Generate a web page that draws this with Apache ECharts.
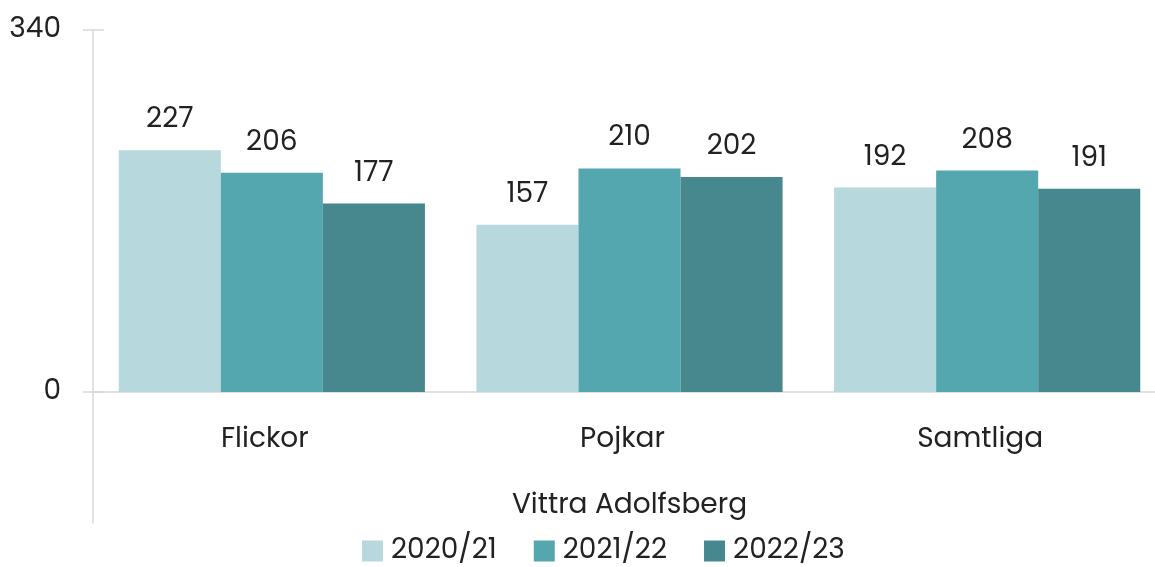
<!DOCTYPE html>
<html>
<head>
<meta charset="utf-8">
<script src="https://cdn.jsdelivr.net/npm/echarts@6/dist/echarts.min.js"></script>
<style>
  html, body { margin: 0; padding: 0; background: #fff; overflow: hidden; }
  #chart { width: 1170px; height: 567px; }
</style>
</head>
<body>
<div id="chart"></div>
<script>
var categories = ['Flickor', 'Pojkar', 'Samtliga'];
var seriesNames = ['2020/21', '2021/22', '2022/23'];
var v2020 = [227, 157, 192];
var v2021 = [206, 210, 208];
var v2022 = [177, 202, 191];
var colors = ['#b7d8dc', '#55a7af', '#46888e'];

var font = 'Poppins, "Open Sans", sans-serif';
var axisGray = '#d9d9d9';

var myChart = echarts.init(document.getElementById('chart'));

var option = {
    animation: false,
    color: colors,
    textStyle: { fontFamily: font },
    grid: [
        { left: 93, top: 30, width: 1073, height: 362 },
        { left: 93, top: 392, width: 1073, height: 131 }
    ],
    legend: {
        data: seriesNames,
        top: 537,
        left: 362,
        padding: 0,
        itemWidth: 21,
        itemHeight: 21,
        itemGap: 37,
        icon: 'rect',
        textStyle: { fontSize: 28, color: '#222', fontFamily: font, padding: [0, 0, 0, 3] }
    },
    xAxis: [{
        type: 'category',
        gridIndex: 0,
        data: categories,
        axisLine: { lineStyle: { color: axisGray, width: 1.5 } },
        axisTick: { show: false },
        axisLabel: { fontSize: 28, color: '#222', margin: 34, padding: [0, 14, 0, 0] },
        name: 'Vittra Adolfsberg',
        nameLocation: 'middle',
        nameGap: 100,
        nameTextStyle: { fontSize: 28, color: '#222' }
    }, {
        type: 'value',
        gridIndex: 1,
        show: false
    }],
    yAxis: [{
        type: 'value',
        gridIndex: 0,
        min: 0,
        max: 340,
        interval: 340,
        axisLine: { show: true, lineStyle: { color: axisGray, width: 1.5 } },
        axisTick: { show: true, length: 10, lineStyle: { color: axisGray, width: 1.5 } },
        axisLabel: { fontSize: 28, color: '#222', margin: 32 },
        splitLine: { show: false }
    }, {
        type: 'value',
        gridIndex: 0,
        min: 0,
        max: 340,
        interval: 340,
        position: 'left',
        axisLine: { show: false },
        axisTick: { show: true, inside: true, length: 11, lineStyle: { color: axisGray, width: 1.5 } },
        axisLabel: { show: false },
        splitLine: { show: false }
    }, {
        type: 'value',
        gridIndex: 1,
        min: 0,
        max: 1,
        axisLine: { show: true, lineStyle: { color: axisGray, width: 1.5 } },
        axisTick: { show: false },
        axisLabel: { show: false },
        splitLine: { show: false }
    }],
    series: [v2020, v2021, v2022].map(function (d, i) {
        return {
            name: seriesNames[i],
            type: 'bar',
            xAxisIndex: 0,
            yAxisIndex: 0,
            data: d,
            barGap: '0%',
            barCategoryGap: '14.4%',
            label: {
                show: true,
                position: 'top',
                distance: 16,
                fontSize: 28,
                color: '#222'
            }
        };
    })
};

myChart.setOption(option);
</script>
</body>
</html>
